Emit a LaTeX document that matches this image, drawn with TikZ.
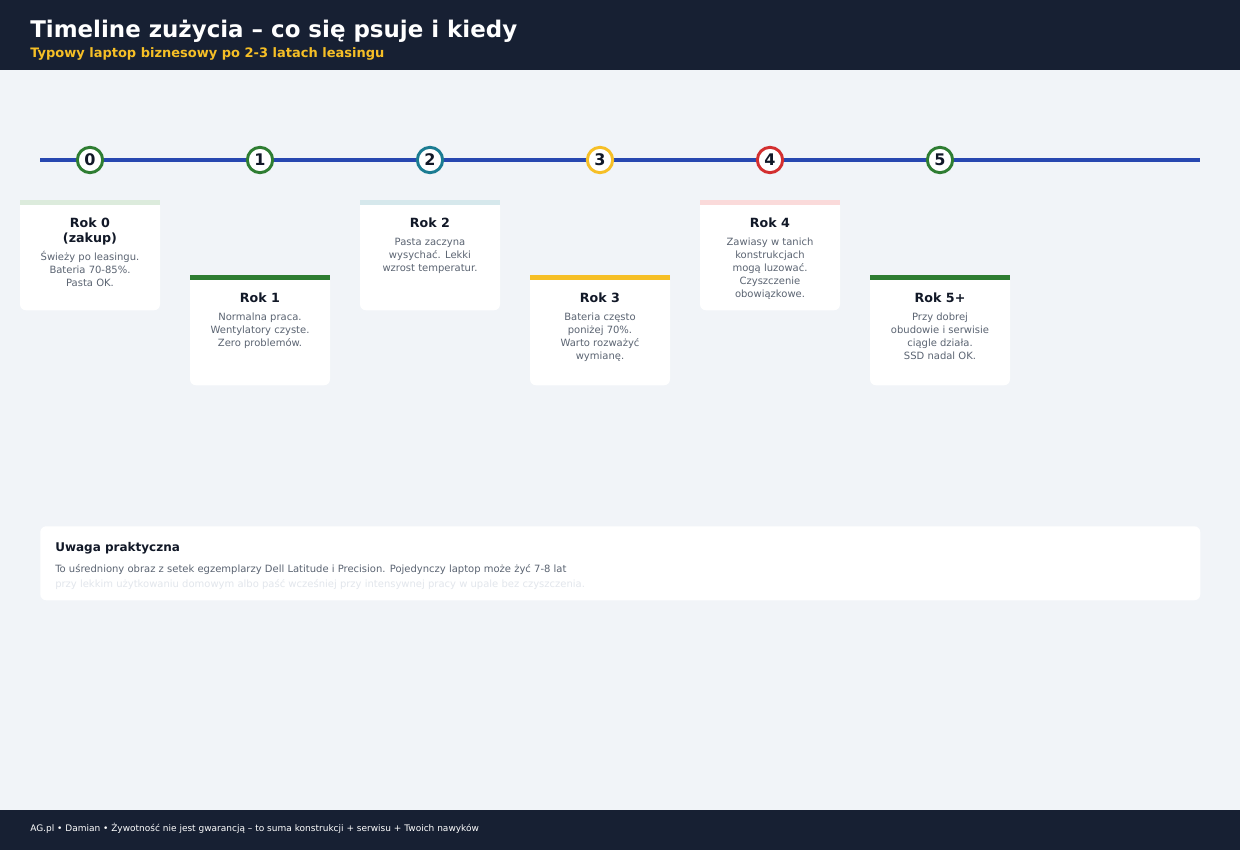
\documentclass[tikz,border=0pt]{standalone}
\usepackage{fontspec}
\setmainfont{DejaVu Sans}
\usetikzlibrary{positioning}
\definecolor{headbg}{HTML}{172033}
\definecolor{pagebg}{HTML}{F1F4F8}
\definecolor{lineblue}{HTML}{2747B0}
\definecolor{okgreen}{HTML}{2E7D32}
\definecolor{midteal}{HTML}{1B7C92}
\definecolor{warnyellow}{HTML}{F6BF26}
\definecolor{badred}{HTML}{D32F2F}
\definecolor{paleG}{HTML}{DCEBDC}
\definecolor{paleT}{HTML}{D6E8EC}
\definecolor{paleR}{HTML}{FADADA}
\definecolor{ink}{HTML}{111827}
\definecolor{muted}{HTML}{5B6472}
\definecolor{faint}{HTML}{E2E6EC}
\tikzset{
 yearcirc/.style={circle, draw=#1, line width=2.2pt, fill=white, minimum size=19pt, inner sep=0pt, text=ink, font=\bfseries\fontsize{12}{12}\selectfont},
 card/.style={rounded corners=4.5pt, fill=white, minimum width=105pt, minimum height=82.5pt, inner sep=0pt},
 % base = baseline of the last line
 cardtitle/.style={anchor=base, align=center, inner sep=0pt, text=ink, font=\bfseries\fontsize{9.5}{11.25}\selectfont},
 cardbody/.style={anchor=base, align=center, inner sep=0pt, text=muted, font=\fontsize{7.5}{9.75}\selectfont},
 timeline/.style={lineblue, line width=3.6pt}
}
\begin{document}
\begin{tikzpicture}[x=0.75pt, y=-0.75pt]
\useasboundingbox (0,0) rectangle (1240,850);
\fill[pagebg] (0,0) rectangle (1240,850);

% header
\fill[headbg] (0,0) rectangle (1240,70);
\node[anchor=base west, inner sep=0pt, text=white, font=\bfseries\fontsize{17.2}{20}\selectfont] (title) at (30,37) {Timeline zużycia – co się psuje i kiedy};
\node[anchor=base west, inner sep=0pt, text=warnyellow, font=\bfseries\fontsize{9.75}{12}\selectfont] (subtitle) at (30,57) {Typowy laptop biznesowy po 2-3 latach leasingu};

% timeline
\coordinate (tl-start) at (40,160);
\coordinate (tl-end) at (1200,160);
\draw[timeline] (tl-start) -- (tl-end);
\foreach \i/\cx/\col in {0/90/okgreen, 1/260/okgreen, 2/430/midteal, 3/600/warnyellow, 4/770/badred, 5/940/okgreen}
  \node[yearcirc=\col] (yr\i) at (\cx,160) {\i};

% cards
\foreach \i/\cx/\ctop/\col/\toff/\ttl/\boff/\body in {
  0/90/200/paleG/42/{Rok 0\\(zakup)}/86/{Świeży po leasingu.\\Bateria 70-85\%.\\Pasta OK.},
  1/260/275/okgreen/27/{Rok 1}/71/{Normalna praca.\\Wentylatory czyste.\\Zero problemów.},
  2/430/200/paleT/27/{Rok 2}/71/{Pasta zaczyna\\wysychać. Lekki\\wzrost temperatur.},
  3/600/275/warnyellow/27/{Rok 3}/84/{Bateria często\\poniżej 70\%.\\Warto rozważyć\\wymianę.},
  4/770/200/paleR/27/{Rok 4}/97/{Zawiasy w tanich\\konstrukcjach\\mogą luzować.\\Czyszczenie\\obowiązkowe.},
  5/940/275/okgreen/27/{Rok 5+}/84/{Przy dobrej\\obudowie i serwisie\\ciągle działa.\\SSD nadal OK.}}
{
  \node[card, anchor=north] (card\i) at (\cx,\ctop) {};
  \fill[\col] (card\i.north west) rectangle ([yshift=-3.75pt]card\i.north east);
  \node[cardtitle] (ttl\i) at (\cx,\ctop+\toff) {\ttl};
  \node[cardbody] (body\i) at (\cx,\ctop+\boff) {\body};
}

% note
\node[card, anchor=north west, minimum width=870pt, minimum height=55.5pt] (note) at (40,526) {};
\node[anchor=base west, inner sep=0pt, text=ink, font=\bfseries\fontsize{9}{11}\selectfont] (notetitle) at (55,551) {Uwaga praktyczna};
\node[anchor=base west, inner sep=0pt, text=muted, font=\fontsize{7.5}{10}\selectfont] (noteline1) at (55,572) {To uśredniony obraz z setek egzemplarzy Dell Latitude i Precision. Pojedynczy laptop może żyć 7-8 lat};
\node[anchor=base west, inner sep=0pt, text=faint, font=\fontsize{7.5}{10}\selectfont] (noteline2) at (55,587) {przy lekkim użytkowaniu domowym albo paść wcześniej przy intensywnej pracy w upale bez czyszczenia.};

% footer
\fill[headbg] (0,810) rectangle (1240,850);
\node[anchor=base west, inner sep=0pt, text=white, font=\fontsize{6.75}{9}\selectfont] (footer) at (30,831) {AG.pl • Damian • Żywotność nie jest gwarancją – to suma konstrukcji + serwisu + Twoich nawyków};
\end{tikzpicture}
\end{document}
